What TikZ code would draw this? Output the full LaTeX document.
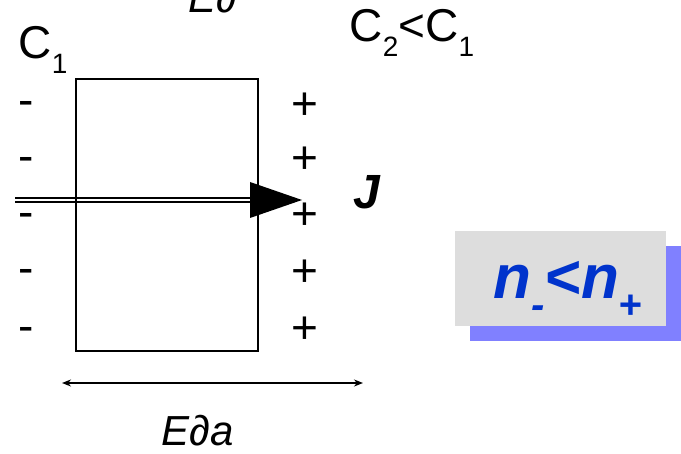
\documentclass[tikz,border=0pt]{standalone}
\usepackage{fontspec}
\setmainfont{Liberation Sans}
\usetikzlibrary{arrows.meta,positioning}
\definecolor{boxgray}{RGB}{221,221,221}
\definecolor{shade}{RGB}{128,128,255}
\definecolor{nblue}{RGB}{0,51,204}
\newcommand{\lowsub}[2][28]{\raisebox{-.32em}{\fontsize{#1}{#1}\selectfont #2}}
\tikzset{
  >={Stealth[length=9pt,width=7pt]},
  sign/.style={font=\fontsize{46}{46}\selectfont,inner sep=0pt,anchor=base},
  lbl/.style={font=\fontsize{46}{46}\selectfont,inner sep=0pt,anchor=base},
  dimlbl/.style={font=\fontsize{42}{42}\selectfont\itshape,inner sep=0pt,anchor=base},
  slab/.style={draw,line width=1.5pt,minimum width=182pt,minimum height=272pt,inner sep=0pt},
  panel/.style={fill=#1,minimum width=211pt,minimum height=95pt,inner sep=0pt},
  panel/.default=boxgray,
}
\begin{document}
\begin{tikzpicture}[x=1pt,y=-1pt]
  \clip (0,0) rectangle (681,454);
  \fill[white] (0,0) rectangle (681,454);
  % sample
  \node[slab] (bar) at (167,215) {};
  \node[lbl] (ca) at (43,59) {C\lowsub{1}};
  \node[lbl] (cb) at (412,42) {C\lowsub{2}<C\lowsub{1}};
  \node[dimlbl] (top) at (213,13) {E∂};
  % surface charges
  \foreach \y [count=\i] in {116,172,228,284,342}
    \node[sign] (m\i) at (26,\y) {-};
  \foreach \y [count=\i] in {120,174,230,287,344}
    \node[sign] (p\i) at (305,\y) {+};
  % flux
  \coordinate (jin) at (15,200);
  \coordinate (jtip) at (302,200);
  \draw[line width=2pt] (15,198) -- (255,198) (15,202.5) -- (255,202.5);
  \fill (250,182) -- (jtip) -- (250,218) -- cycle;
  \node[lbl,font=\fontsize{48}{48}\selectfont\bfseries\itshape] (J) at (367,209) {J};
  % thickness
  \coordinate (dl) at (62,383);
  \coordinate (dr) at (363,383);
  \draw[<->,line width=1.5pt] (dl) -- (dr);
  \node[dimlbl] (da) at (198,446) {E∂a};
  % concentrations
  \node[panel=shade] (back) at (575,294) {};
  \node[panel] (front) at (560,279) {};
  \node[font=\fontsize{62}{62}\selectfont\bfseries\itshape,text=nblue,inner sep=0pt]
    (nn) at (568,290) {n\lowsub[40]{-}<n\lowsub[40]{+}};
\end{tikzpicture}
\end{document}
